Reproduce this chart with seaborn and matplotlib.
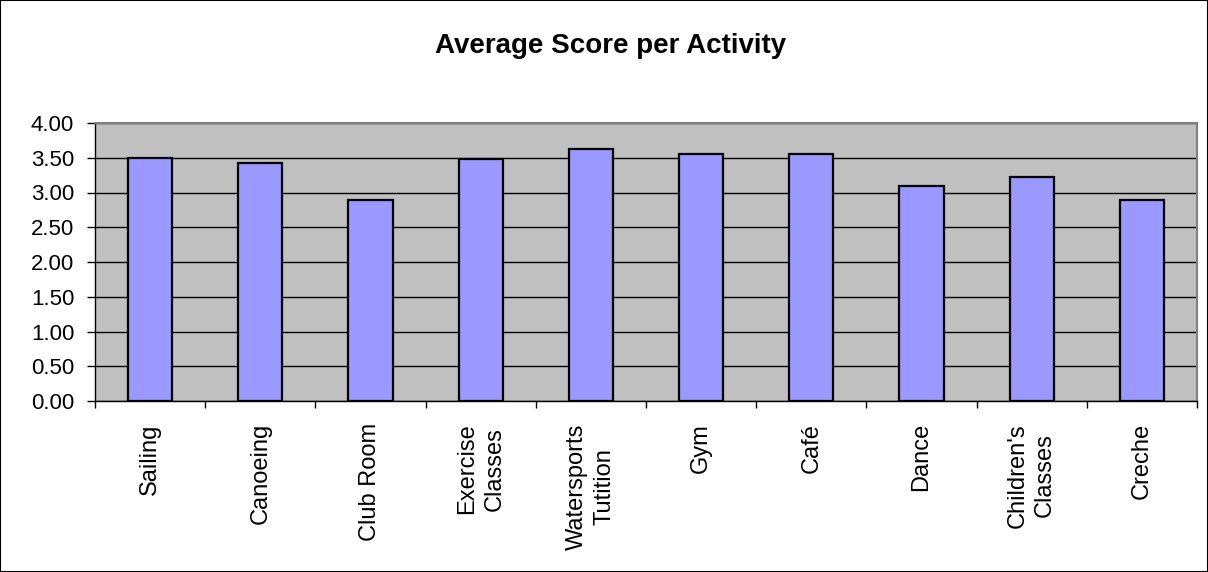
import matplotlib
matplotlib.use("Agg")
import matplotlib.pyplot as plt
import seaborn as sns
import pandas as pd
from matplotlib.patches import Rectangle
from matplotlib.ticker import FormatStrFormatter

# Chart data
activities = ["Sailing", "Canoeing", "Club Room", "Exercise\nClasses",
              "Watersports\nTutition", "Gym", "Café", "Dance",
              "Children's\nClasses", "Creche"]
scores = [3.50, 3.43, 2.89, 3.48, 3.62, 3.56, 3.56, 3.10, 3.23, 2.89]
y_ticks = [0.0, 0.5, 1.0, 1.5, 2.0, 2.5, 3.0, 3.5, 4.0]
title = "Average Score per Activity"

df = pd.DataFrame({"Activity": activities, "Score": scores})

sns.set_style("white")
plt.rcParams["font.family"] = ["Liberation Sans", "DejaVu Sans"]
plt.rcParams["text.color"] = "black"
plt.rcParams["xtick.color"] = "black"
plt.rcParams["ytick.color"] = "black"

fig = plt.figure(figsize=(12.08, 5.72), dpi=100)
ax = fig.add_axes([95 / 1208, 1 - 401 / 572, (1197 - 95) / 1208, (401 - 123) / 572])

sns.barplot(data=df, x="Activity", y="Score", color="#9999FF", saturation=1,
            edgecolor="black", linewidth=1.6, width=0.4, ax=ax)

ax.set_facecolor("#C0C0C0")
ax.set_xlim(-0.5, len(activities) - 0.5)
ax.set_ylim(0, 4)
ax.set_xlabel("")
ax.set_ylabel("")

# y axis: gridlines every 0.5, two decimals
ax.set_yticks(y_ticks)
ax.yaxis.set_major_formatter(FormatStrFormatter("%.2f"))
ax.yaxis.grid(True, color="black", linewidth=1)
ax.xaxis.grid(False)
ax.set_axisbelow(True)
ax.tick_params(axis="y", left=True, length=6, width=1, color="black",
               labelcolor="black", direction="out", pad=9, labelsize=16)

# x axis: tick marks between categories, labels centred under bars
ax.set_xticks([i - 0.5 for i in range(len(activities) + 1)])
ax.set_xticklabels([])
ax.set_xticks(range(len(activities)), minor=True)
ax.set_xticklabels(activities, minor=True, rotation=90, ha="center", va="top",
                   multialignment="center", fontsize=17, linespacing=1.3,
                   color="black")
ax.tick_params(axis="x", which="major", bottom=True, length=5, width=1,
               color="black", direction="out")
ax.tick_params(axis="x", which="minor", bottom=True, length=0, pad=16)

for side in ["left", "bottom"]:
    ax.spines[side].set_color("black")
    ax.spines[side].set_linewidth(1)
for side in ["top", "right"]:
    ax.spines[side].set_color("#808080")
    ax.spines[side].set_linewidth(1.5)

fig.text(611 / 1208, 1 - 53 / 572, title, ha="center", va="baseline",
         fontsize=20, fontweight="bold", color="black")

# border round the whole chart
fig.patches.append(Rectangle((0, 0), 1, 1, transform=fig.transFigure,
                             fill=False, edgecolor="black", linewidth=1.5))

fig.savefig("out.png", dpi=100)
